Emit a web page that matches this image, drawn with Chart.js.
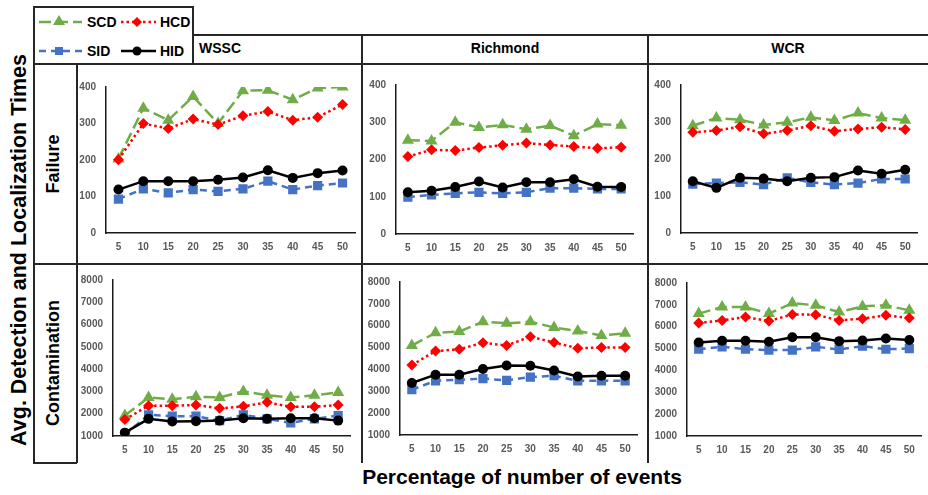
<!DOCTYPE html>
<html>
<head>
<meta charset="utf-8">
<script src="https://cdn.jsdelivr.net/npm/chart.js@4.4.0/dist/chart.umd.min.js"></script>
<style>
  body { margin: 0; background: #fff; }
  #wrap { position: relative; width: 928px; height: 495px; overflow: hidden; font-family: "Liberation Sans", Arial, sans-serif; font-weight: bold; color: #000; }
  .ln { position: absolute; background: #262626; z-index: 5; }
  canvas { position: absolute; }
  .txt { position: absolute; white-space: nowrap; }
  .rot { position: absolute; white-space: nowrap; text-align: center; transform: rotate(-90deg); }
  .leg { position: absolute; height: 20px; line-height: 20px; font-size: 14px; }
  .leg svg { position: absolute; left: 0; top: 0; }
  .leg span { position: absolute; top: 0; }
</style>
</head>
<body>
<div id="wrap">
  <!-- legend box -->
  <div class="ln" style="left:33px;top:6px;width:160px;height:1.5px"></div>
  <div class="ln" style="left:33px;top:6px;width:1.5px;height:58px"></div>
  <div class="ln" style="left:192px;top:6px;width:1.5px;height:58px"></div>
  <!-- header row -->
  <div class="ln" style="left:193px;top:34px;width:735px;height:1.5px"></div>
  <div class="ln" style="left:33px;top:63px;width:895px;height:1.5px"></div>
  <div class="ln" style="left:361px;top:34px;width:1.5px;height:230px"></div>
  <div class="ln" style="left:647px;top:34px;width:1.5px;height:230px"></div>
  <!-- body grid -->
  <div class="ln" style="left:33px;top:63px;width:1.5px;height:400px"></div>
  <div class="ln" style="left:76px;top:63px;width:1.5px;height:400px"></div>
  <div class="ln" style="left:33px;top:263px;width:895px;height:1.5px"></div>
  <div class="ln" style="left:33px;top:462px;width:44px;height:1.5px"></div>
  <div class="ln" style="left:361px;top:263px;width:1.5px;height:200px"></div>
  <div class="ln" style="left:647px;top:263px;width:1.5px;height:200px"></div>

  <div class="leg" style="left:38px;top:12px;width:80px">
    <svg width="46" height="20"><line x1="1" y1="10" x2="44" y2="10" stroke="#70AD47" stroke-width="2.5" stroke-dasharray="12 5"/><polygon points="21,3 27,13 15,13" fill="#70AD47"/></svg>
    <span style="left:49px">SCD</span>
  </div>
  <div class="leg" style="left:120px;top:12px;width:75px">
    <svg width="38" height="20"><line x1="1" y1="10" x2="36" y2="10" stroke="#FF0000" stroke-width="2.5" stroke-dasharray="2.5 3"/><polygon points="17,5 22,10 17,15 12,10" fill="#FF0000"/></svg>
    <span style="left:40px">HCD</span>
  </div>
  <div class="leg" style="left:38px;top:41px;width:80px">
    <svg width="46" height="20"><line x1="1" y1="10" x2="44" y2="10" stroke="#4472C4" stroke-width="2.5" stroke-dasharray="7 5"/><rect x="17" y="6" width="8" height="8" fill="#4472C4"/></svg>
    <span style="left:49px">SID</span>
  </div>
  <div class="leg" style="left:120px;top:41px;width:75px">
    <svg width="38" height="20"><line x1="1" y1="10" x2="36" y2="10" stroke="#000" stroke-width="2.5"/><circle cx="17" cy="10" r="4.5" fill="#000"/></svg>
    <span style="left:40px">HID</span>
  </div>

  <div class="txt" style="left:199px;top:40px;font-size:14px">WSSC</div>
  <div class="txt" style="left:362px;width:286px;top:40px;font-size:14px;text-align:center">Richmond</div>
  <div class="txt" style="left:648px;width:280px;top:40px;font-size:14px;text-align:center">WCR</div>

  <div class="rot" style="left:-191px;width:420px;top:237px;height:26px;line-height:26px;font-size:21.5px">Avg. Detection and Localization Times</div>
  <div class="rot" style="left:-47px;width:200px;top:153px;height:22px;line-height:22px;font-size:18px">Failure</div>
  <div class="rot" style="left:-47px;width:200px;top:352px;height:22px;line-height:22px;font-size:18px">Contamination</div>
  <div class="txt" style="left:322px;width:400px;top:465px;font-size:21px;text-align:center">Percentage of number of events</div>

  <canvas id="c11" width="285" height="200" style="left:77px;top:64px"></canvas>
  <canvas id="c12" width="286" height="200" style="left:362px;top:64px"></canvas>
  <canvas id="c13" width="280" height="200" style="left:648px;top:64px"></canvas>
  <canvas id="c21" width="285" height="199" style="left:77px;top:264px"></canvas>
  <canvas id="c22" width="286" height="199" style="left:362px;top:264px"></canvas>
  <canvas id="c23" width="280" height="199" style="left:648px;top:264px"></canvas>
</div>
<script>
var xLabels = ['5', '10', '15', '20', '25', '30', '35', '40', '45', '50'];
var seriesNames = ['SCD', 'HCD', 'SID', 'HID'];

// Failure (0 - 400)
var wsscFailSCD = [203, 342, 309, 374, 300, 390, 391, 365, 397, 400];
var wsscFailHCD = [201, 300, 286, 312, 297, 321, 333, 309, 317, 352];
var wsscFailSID = [93, 121, 110, 119, 114, 121, 142, 119, 130, 137];
var wsscFailHID = [119, 142, 142, 142, 146, 152, 172, 151, 164, 171];

var richFailSCD = [252, 250, 300, 286, 293, 281, 291, 264, 295, 292];
var richFailHCD = [208, 226, 224, 232, 238, 244, 239, 235, 230, 233];
var richFailSID = [99, 105, 109, 112, 109, 112, 123, 123, 121, 121];
var richFailHID = [112, 116, 126, 141, 125, 139, 139, 147, 127, 126];

var wcrFailSCD = [290, 311, 306, 292, 299, 313, 304, 324, 311, 305];
var wcrFailHCD = [272, 277, 287, 268, 277, 290, 275, 281, 286, 280];
var wcrFailSID = [132, 135, 137, 131, 149, 137, 131, 135, 146, 146];
var wcrFailHID = [140, 122, 149, 147, 140, 149, 151, 169, 160, 171];

// Contamination (1000 - 8000)
var wsscContSCD = [1920, 2730, 2650, 2760, 2730, 3000, 2830, 2730, 2830, 2950];
var wsscContHCD = [1740, 2360, 2360, 2390, 2240, 2330, 2510, 2310, 2310, 2390];
var wsscContSID = [1060, 1950, 1890, 1890, 1690, 1950, 1770, 1590, 1770, 1920];
var wsscContHID = [1150, 1770, 1650, 1660, 1690, 1800, 1770, 1800, 1800, 1690];

var richContSCD = [5090, 5680, 5730, 6180, 6110, 6180, 5920, 5760, 5550, 5650];
var richContHCD = [4200, 4840, 4920, 5220, 5090, 5500, 5230, 4970, 5000, 5000];
var richContSID = [3070, 3480, 3530, 3580, 3500, 3650, 3710, 3480, 3480, 3480];
var richContHID = [3380, 3760, 3760, 4020, 4180, 4170, 3950, 3680, 3710, 3710];

var wcrContSCD = [6600, 6900, 6900, 6600, 7080, 6980, 6670, 6930, 6980, 6750];
var wcrContHCD = [6170, 6290, 6440, 6260, 6560, 6550, 6290, 6370, 6520, 6400];
var wcrContSID = [4970, 5080, 4970, 4930, 4930, 5080, 4960, 5110, 4970, 5000];
var wcrContHID = [5280, 5360, 5360, 5310, 5520, 5520, 5340, 5370, 5460, 5390];

var styles = {
    SCD: { color: '#70AD47', dash: [12, 5], point: 'triangle', radius: 7, order: 4 },
    HCD: { color: '#FF0000', dash: [2.5, 3], point: 'rectRot', radius: 5.5, order: 3 },
    SID: { color: '#4472C4', dash: [7, 5], point: 'rect', radius: 6.5, order: 2 },
    HID: { color: '#000000', dash: [], point: 'circle', radius: 5, order: 1 }
};

var tickFont = { family: 'Liberation Sans', size: 10, weight: 'bold' };

function panel(id, series, yMin, yMax, step, lay) {
    var datasets = seriesNames.map(function (name, i) {
        var s = styles[name];
        return {
            label: name,
            data: series[i],
            borderColor: s.color,
            backgroundColor: s.color,
            pointBackgroundColor: s.color,
            pointBorderColor: s.color,
            borderWidth: 2.5,
            borderDash: s.dash,
            pointStyle: s.point,
            pointRadius: s.radius,
            pointBorderWidth: 0,
            tension: 0,
            order: s.order
        };
    });
    new Chart(document.getElementById(id), {
        type: 'line',
        data: { labels: xLabels, datasets: datasets },
        options: {
            responsive: false,
            animation: false,
            layout: { padding: { left: 0, right: lay.r, top: lay.t, bottom: 0 } },
            plugins: { legend: { display: false }, tooltip: { enabled: false } },
            scales: {
                x: {
                    offset: true,
                    grid: { display: false, drawTicks: false },
                    border: { display: true, color: '#1a1a1a', width: 1.5 },
                    ticks: { color: '#595959', padding: 8, maxRotation: 0, autoSkip: false, font: tickFont },
                    afterFit: function (s) { s.height = lay.xh; }
                },
                y: {
                    min: yMin, max: yMax,
                    grid: { display: false, drawTicks: false },
                    border: { display: true, color: '#1a1a1a', width: 1.5 },
                    ticks: { stepSize: step, color: '#595959', padding: 10, font: tickFont,
                             callback: function (v) { return String(v); } },
                    afterFit: function (s) { s.width = lay.yw; }
                }
            }
        }
    });
}

panel('c11', [wsscFailSCD, wsscFailHCD, wsscFailSID, wsscFailHID], 0, 400, 100, { yw: 29, r: 2, t: 23, xh: 31 });
panel('c12', [richFailSCD, richFailHCD, richFailSID, richFailHID], 0, 400, 100, { yw: 34, r: 15, t: 21, xh: 30 });
panel('c13', [wcrFailSCD, wcrFailHCD, wcrFailSID, wcrFailHID], 0, 400, 100, { yw: 33, r: 11, t: 21, xh: 31 });
panel('c21', [wsscContSCD, wsscContHCD, wsscContSID, wsscContHID], 1000, 8000, 1000, { yw: 36, r: 12, t: 14, xh: 27 });
panel('c22', [richContSCD, richContHCD, richContSID, richContHID], 1000, 8000, 1000, { yw: 38, r: 11, t: 18, xh: 28 });
panel('c23', [wcrContSCD, wcrContHCD, wcrContSID, wcrContHID], 1000, 8000, 1000, { yw: 39, r: 0, t: 19, xh: 27 });
</script>
</body>
</html>
